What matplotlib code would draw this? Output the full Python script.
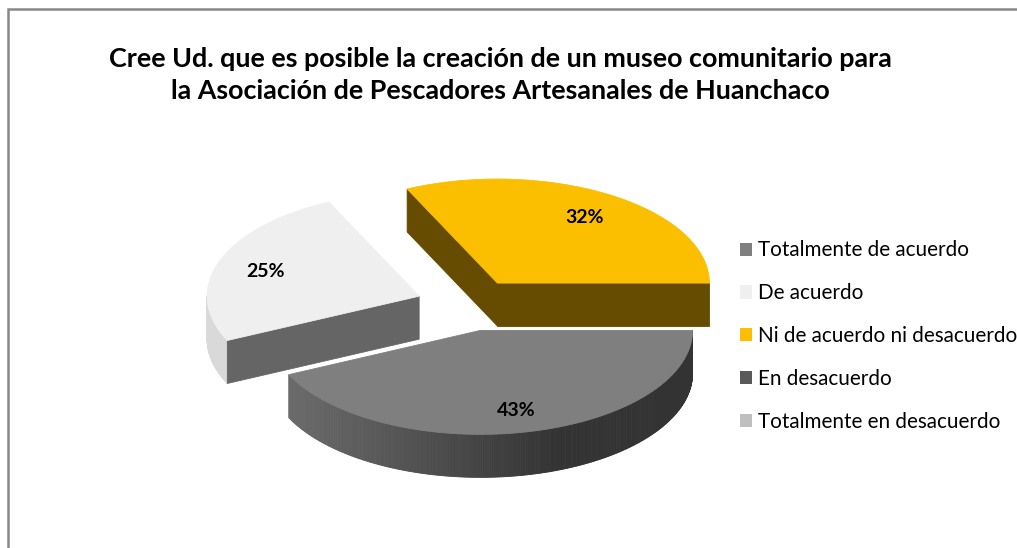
import numpy as np
import matplotlib.pyplot as plt
from matplotlib.patches import Polygon, Patch
from matplotlib.colors import to_rgb

categories = ['Totalmente de acuerdo', 'De acuerdo', 'Ni de acuerdo ni desacuerdo',
              'En desacuerdo', 'Totalmente en desacuerdo']
values = [43, 25, 32, 0, 0]
labels = ['43%', '25%', '32%', '', '']
title = ('Cree Ud. que es posible la creación de un museo comunitario para\n'
         'la Asociación de Pescadores Artesanales de Huanchaco')

top_colors = ['#7f7f7f', '#efefef', '#fbbf00', '#595959', '#bfbfbf']
wall_colors = [('#6b6b6b', '#333333'), ('#d9d9d9', '#d9d9d9'), ('#664c00', '#664c00'),
               ('#404040', '#404040'), ('#999999', '#999999')]
face_colors = ['#555555', '#656565', '#664c00', '#404040', '#999999']

# pie geometry in pixels
cx, cy = 469, 305
a, b = 212, 104
h = 43
explode = 53

fig = plt.figure(figsize=(10.17, 5.48), dpi=100)
ax = fig.add_axes([0, 0, 1, 1])
ax.set_xlim(0, 1017)
ax.set_ylim(548, 0)
ax.axis('off')


def proj(theta, r, ox, oy, z=0):
    return ox + a * r * np.cos(theta), oy - b * r * np.sin(theta) + z


total = sum(values)
slices = []
start = 0.0
for i, v in enumerate(values):
    if v == 0:
        continue
    span = v / total * 2 * np.pi
    hi = start
    lo = start - span
    start = lo
    mid = (lo + hi) / 2
    ox = cx + explode * np.cos(mid)
    oy = cy - explode * (b / a) * np.sin(mid)
    slices.append((i, lo, hi, mid, ox, oy))

# back slices first
slices.sort(key=lambda s: s[5])

for i, lo, hi, mid, ox, oy in slices:
    # outer wall (front half only), drawn as strips for shading
    t = np.linspace(lo, hi, 300)
    c0, c1 = np.array(to_rgb(wall_colors[i][0])), np.array(to_rgb(wall_colors[i][1]))
    for k in range(len(t) - 1):
        tm = (t[k] + t[k + 1]) / 2
        if np.sin(tm) > 0:
            continue
        x1, y1 = proj(t[k], 1, ox, oy)
        x2, y2 = proj(t[k + 1], 1, ox, oy)
        f = np.clip((np.cos(tm) + 0.9) / 1.27, 0, 1)
        col = c0 + (c1 - c0) * f
        ax.add_patch(Polygon([(x1, y1), (x2, y2), (x2, y2 + h), (x1, y1 + h)],
                             closed=True, facecolor=col, edgecolor=col, lw=0.6))
    # radial faces
    for phi, normal in ((hi, hi + np.pi / 2), (lo, lo - np.pi / 2)):
        if np.sin(normal) < 0:
            xr, yr = proj(phi, 1, ox, oy)
            ax.add_patch(Polygon([(ox, oy), (xr, yr), (xr, yr + h), (ox, oy + h)],
                                 closed=True, facecolor=face_colors[i],
                                 edgecolor=face_colors[i], lw=0.6))
    # top face
    xs, ys = proj(t, 1, ox, oy)
    pts = [(ox, oy)] + list(zip(xs, ys))
    ax.add_patch(Polygon(pts, closed=True, facecolor=top_colors[i],
                         edgecolor=top_colors[i], lw=0.6))
    lx, ly = proj(mid, 0.77, ox, oy)
    ax.text(lx, ly + 2, labels[i], ha='center', va='center', fontsize=14,
            fontweight='bold', family='Lato', color='black')

ax.text(500, 75, title, ha='center', va='center', fontsize=19.4, fontweight='bold',
        family='Lato', linespacing=1.36)

# chart border (cut at right and bottom)
ax.plot([8, 8, 1020], [560, 9, 9], color='#888888', lw=1.8, solid_joinstyle='miter')

handles = [Patch(facecolor=c, edgecolor='none') for c in top_colors]
fig.legend(handles, categories, loc='center left',
           bbox_to_anchor=(740 / 1017, 1 - 336 / 548), frameon=False,
           prop={'family': 'Lato', 'size': 14.9}, handlelength=0.6, handleheight=0.6,
           handletextpad=0.25, labelspacing=1.1, borderpad=0, borderaxespad=0)

fig.savefig('out.png', dpi=100, facecolor='white')
